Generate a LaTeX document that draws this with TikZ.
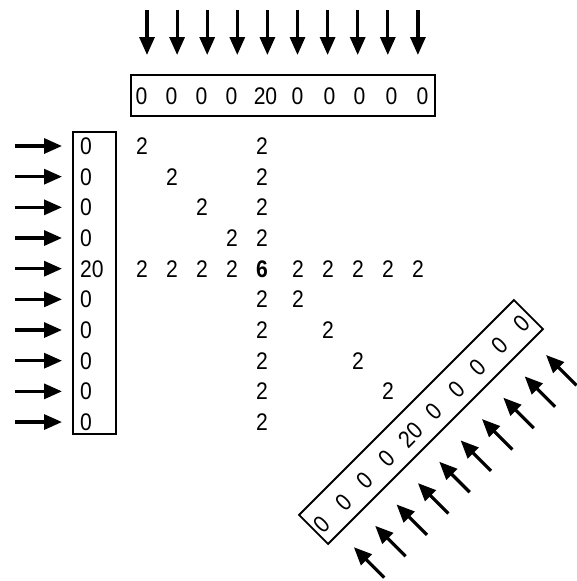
\documentclass[tikz,border=0pt]{standalone}
\usepackage{fontspec}
\setmainfont[FakeStretch=0.88]{Liberation Sans}
\usetikzlibrary{arrows.meta}
\tikzstyle{rowbox} = [rectangle, draw=black, line width=1.8pt, minimum width=304pt, minimum height=41pt, inner sep=0pt]
\tikzstyle{colbox} = [rectangle, draw=black, line width=1.8pt, minimum width=43pt, minimum height=302pt, inner sep=0pt]
\tikzstyle{entry} = [inner sep=0pt, font=\fontsize{24}{26}\selectfont]
\tikzstyle{ray} = [line width=3.2pt, -{Triangle[length=18pt,width=15pt]}]

\begin{document}
\begin{tikzpicture}[x=1pt, y=1pt]
\useasboundingbox (0,0) rectangle (577,-581);

% Top projection
\node (topbox) [rowbox] at (283,-95.5) {};
\foreach \k/\dx/\v in {0/-141.5/0,1/-111.5/0,2/-81.5/0,3/-51.5/0,4/-17.5/20,5/14.5/0,6/46.5/0,7/76.5/0,8/108.5/0,9/139.5/0}
  \node (top-\k) [entry] at (283+\dx,-96.5) {\v};
\foreach \k in {0,...,9} {
  \coordinate (ttail-\k) at (147+30.1*\k,-10);
  \coordinate (ttip-\k) at (147+30.1*\k,-55);
  \draw [ray] (ttail-\k) -- (ttip-\k);
}

% Left projection
\node (leftbox) [colbox] at (94.5,-283) {};
\foreach \k/\y/\v in {0/146/0,1/177/0,2/207/0,3/238/0,4/269/20,5/299/0,6/330/0,7/361/0,8/391/0,9/422/0}
  \node (left-\k) [entry, anchor=west] at (80,-\y) {\v};
\foreach \k in {0,...,9} {
  \coordinate (ltail-\k) at (15,-146-30.67*\k);
  \coordinate (ltip-\k) at (62,-146-30.67*\k);
  \draw [ray] (ltail-\k) -- (ltip-\k);
}

% Diagonal projection
\begin{scope}[shift={(421,-422)}, rotate=45, transform shape]
\node (diagbox) [rowbox] at (0,0) {};
\foreach \k/\dx/\v in {0/-142.5/0,1/-111.5/0,2/-81/0,3/-50/0,4/-16.5/20,5/16.5/0,6/48/0,7/79/0,8/109.5/0,9/141/0}
  \node (diag-\k) [entry] at (\dx,-2) {\v};
\foreach \k in {0,...,9} {
  \coordinate (dtail-\k) at (-136+30.2*\k,-84);
  \coordinate (dtip-\k) at (-136+30.2*\k,-41);
  \draw [ray] (dtail-\k) -- (dtip-\k);
}
\end{scope}

% Back projection
\node (peak) [entry] at (262,-269) {\textbf{6}};
\foreach \j/\x in {0/142,1/172,2/202,3/232,5/298,6/328,7/358,8/388,9/418}
  \node (row-\j) [entry] at (\x,-269) {2};
\foreach \i/\y in {0/146,1/177,2/207,3/238,5/299,6/330,7/361,8/391,9/422}
  \node (col-\i) [entry] at (262,-\y) {2};
\foreach \i/\x/\y in {0/142/146,1/172/177,2/202/207,3/232/238,5/298/299,6/328/330,7/358/361,8/388/391}
  \node (dg-\i) [entry] at (\x,-\y) {2};

\end{tikzpicture}
\end{document}
